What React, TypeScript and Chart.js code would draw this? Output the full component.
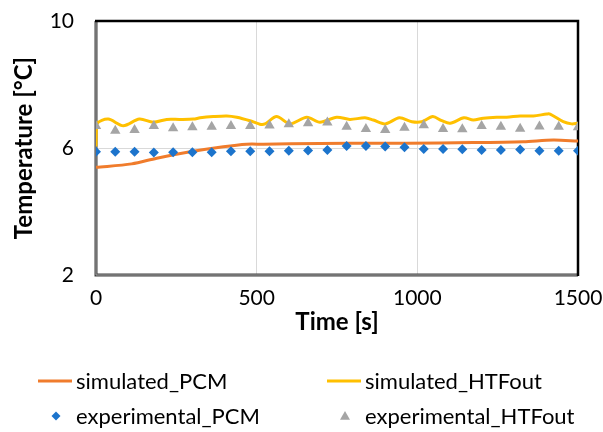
import React, { useEffect, useRef } from 'react';
import { Chart, registerables } from 'chart.js';

Chart.register(...registerables);

const FONT = "Lato, 'Noto Sans', sans-serif";

// Experimental sampling times [s]
const expTime = [0, 60, 120, 180, 240, 300, 360, 420, 480, 540, 600, 660, 720, 780, 840, 900, 960, 1020, 1080, 1140, 1200, 1260, 1320, 1380, 1440, 1500];
const expPCM = [5.88, 5.88, 5.88, 5.86, 5.87, 5.87, 5.87, 5.9, 5.9, 5.9, 5.91, 5.92, 5.94, 6.06, 6.06, 6.05, 6.02, 5.97, 5.97, 5.96, 5.94, 5.94, 5.95, 5.91, 5.91, 5.91];
const expHTFout = [6.69, 6.54, 6.57, 6.69, 6.62, 6.65, 6.67, 6.69, 6.69, 6.71, 6.75, 6.78, 6.8, 6.67, 6.6, 6.57, 6.64, 6.72, 6.6, 6.59, 6.69, 6.67, 6.61, 6.68, 6.67, 6.65];

// Simulated series
const simPCMTime = [0, 111, 189, 293, 396, 469, 521, 604, 790, 967, 1174, 1330, 1423, 1500];
const simPCM = [5.39, 5.5, 5.68, 5.88, 6.04, 6.12, 6.12, 6.13, 6.15, 6.15, 6.17, 6.2, 6.25, 6.22];

const simHTFTime = [0, 3, 38, 85, 135, 178, 220, 261, 303, 324, 365, 407, 438, 479, 510, 526, 562, 604, 656, 697, 749, 790, 837, 863, 900, 944, 983, 1014, 1048, 1076, 1102, 1145, 1174, 1205, 1247, 1278, 1320, 1361, 1403, 1413, 1454, 1480, 1500];
const simHTF = [6.05, 6.76, 6.91, 6.7, 6.91, 6.81, 6.9, 6.9, 6.91, 6.95, 6.99, 7.01, 6.97, 6.86, 6.75, 6.76, 6.99, 6.76, 6.97, 6.81, 6.97, 6.9, 6.95, 6.88, 6.76, 6.95, 6.83, 6.83, 6.99, 6.86, 6.78, 6.95, 6.88, 6.94, 6.97, 6.97, 7.01, 7.01, 7.07, 7.07, 6.83, 6.76, 6.78];

const xTicks = [0, 500, 1000, 1500];
const yTicks = [2, 6, 10];

const labels = ['simulated_PCM', 'simulated_HTFout', 'experimental_PCM', 'experimental_HTFout'];

const ORANGE = '#F07C2C';
const YELLOW = '#FFC000';
const BLUE = '#1C74CC';
const GRAY = '#A5A5A5';

const pts = (xs: number[], ys: number[]) => xs.map((x, i) => ({ x, y: ys[i] }));

const borderPlugin = {
  id: 'plotBorder',
  beforeDatasetsDraw(chart: any) {
    const { ctx, chartArea: a } = chart;
    ctx.save();
    ctx.strokeStyle = '#3f3f3f';
    ctx.lineWidth = 3;
    ctx.beginPath();
    ctx.moveTo(a.left, a.top);
    ctx.lineTo(a.left, a.bottom);
    ctx.lineTo(a.right, a.bottom);
    ctx.stroke();
    ctx.strokeStyle = '#a8a8a8';
    ctx.lineWidth = 1;
    ctx.beginPath();
    ctx.moveTo(a.left, a.top);
    ctx.lineTo(a.left, a.bottom);
    ctx.lineTo(a.right, a.bottom);
    ctx.stroke();
    ctx.strokeStyle = '#000';
    ctx.lineWidth = 2.5;
    ctx.beginPath();
    ctx.moveTo(a.left - 1, a.top);
    ctx.lineTo(a.right, a.top);
    ctx.lineTo(a.right, a.bottom + 1);
    ctx.stroke();
    ctx.restore();
  },
};

const legendPlugin = {
  id: 'gridLegend',
  afterDraw(chart: any) {
    const { ctx } = chart;
    const rows = [381, 416];
    const cols = [38, 327];
    const textOff = 38;
    ctx.save();
    ctx.font = `22px ${FONT}`;
    ctx.textBaseline = 'middle';
    ctx.textAlign = 'left';
    chart.data.datasets.forEach((ds: any, i: number) => {
      const r = Math.floor(i / 2);
      const c = i % 2;
      const x = cols[c];
      const y = rows[r];
      if (ds.showLine) {
        ctx.strokeStyle = ds.borderColor;
        ctx.lineWidth = 3;
        ctx.beginPath();
        ctx.moveTo(x, y);
        ctx.lineTo(x + 34, y);
        ctx.stroke();
      } else {
        ctx.fillStyle = ds.backgroundColor;
        ctx.beginPath();
        const cx = x + 18;
        if (ds.pointStyle === 'rectRot') {
          const s = 4.5;
          ctx.moveTo(cx, y - s);
          ctx.lineTo(cx + s, y);
          ctx.lineTo(cx, y + s);
          ctx.lineTo(cx - s, y);
        } else {
          const s = 5;
          ctx.moveTo(cx, y - s);
          ctx.lineTo(cx + s, y + s * 0.75);
          ctx.lineTo(cx - s, y + s * 0.75);
        }
        ctx.closePath();
        ctx.fill();
      }
      ctx.fillStyle = '#000';
      ctx.fillText(ds.label, x + textOff, y + 1);
    });
    ctx.restore();
  },
};

export default function App() {
  const ref = useRef<HTMLCanvasElement>(null);
  useEffect(() => {
    if (!ref.current) return;
    const chart = new Chart(ref.current, {
      type: 'scatter',
      data: {
        datasets: [
          {
            label: labels[0],
            data: pts(simPCMTime, simPCM),
            showLine: true,
            borderColor: ORANGE,
            backgroundColor: ORANGE,
            borderWidth: 3,
            pointRadius: 0,
            tension: 0.3,
            order: 2,
          },
          {
            label: labels[1],
            data: pts(simHTFTime, simHTF),
            showLine: true,
            borderColor: YELLOW,
            backgroundColor: YELLOW,
            borderWidth: 3,
            pointRadius: 0,
            tension: 0.3,
            order: 2,
          },
          {
            label: labels[2],
            data: pts(expTime, expPCM),
            showLine: false,
            pointStyle: 'rectRot',
            pointRadius: 5,
            backgroundColor: BLUE,
            borderWidth: 0,
            order: 1,
          },
          {
            label: labels[3],
            data: pts(expTime, expHTFout),
            showLine: false,
            pointStyle: 'triangle',
            pointRadius: 6,
            backgroundColor: GRAY,
            borderWidth: 0,
            order: 1,
          },
        ],
      } as any,
      options: {
        animation: false,
        responsive: false,
        layout: { padding: { left: 0, right: 25, top: 21, bottom: 95 } },
        plugins: { legend: { display: false }, tooltip: { enabled: false } },
        scales: {
          x: {
            type: 'linear',
            min: 0,
            max: 1500,
            afterBuildTicks: (s: any) => { s.ticks = xTicks.map((v) => ({ value: v })); },
            afterFit: (s: any) => { s.height = 62; s.paddingLeft = 0; s.paddingRight = 0; },
            grid: { color: '#d9d9d9', lineWidth: 1, drawTicks: false },
            border: { display: false },
            ticks: { color: '#000', padding: 11, font: { family: FONT, size: 21 }, callback: (v: any) => String(v) },
            title: { display: true, text: 'Time [s]', color: '#000', padding: { top: 0, bottom: 0 }, font: { family: FONT, size: 24, weight: 'bold' } },
          },
          y: {
            type: 'linear',
            min: 2,
            max: 10,
            afterBuildTicks: (s: any) => { s.ticks = yTicks.map((v) => ({ value: v })); },
            afterFit: (s: any) => { s.width = 96; s.paddingTop = 0; s.paddingBottom = 0; },
            grid: { color: '#d9d9d9', lineWidth: 1, drawTicks: false },
            border: { display: false },
            ticks: { color: '#000', padding: 22, font: { family: FONT, size: 21 }, callback: (v: any) => String(v) },
            title: { display: true, text: 'Temperature [°C]', color: '#000', padding: { top: 10, bottom: 0 }, font: { family: FONT, size: 24, weight: 'bold' } },
          },
        },
      } as any,
      plugins: [borderPlugin, legendPlugin],
    });
    return () => chart.destroy();
  }, []);
  return (
    <div style={{ position: 'absolute', left: 0, top: 0, width: 603, height: 432, background: '#fff' }}>
      <canvas ref={ref} width={603} height={432} style={{ display: 'block' }} />
    </div>
  );
}
